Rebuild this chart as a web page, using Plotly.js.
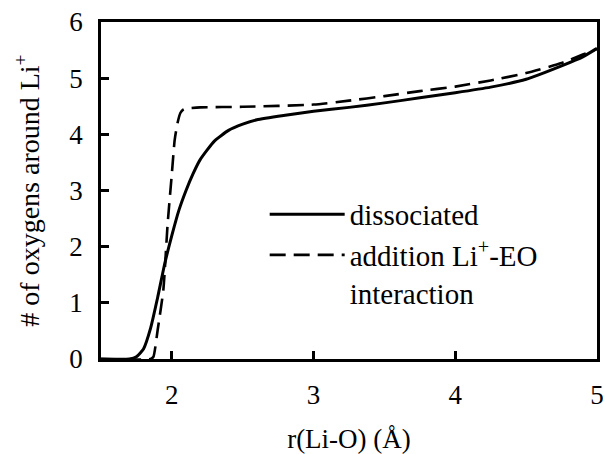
<!DOCTYPE html>
<html>
<head>
<meta charset="utf-8">
<script src="https://cdn.plot.ly/plotly-3.0.1.min.js"></script>
<style>
html,body{margin:0;padding:0;background:#fff;}
</style>
</head>
<body>
<div id="chart"></div>
<script>
// Data
const rDissociated = [1.5, 1.7, 1.75, 1.8, 1.85, 1.9, 1.95, 2.0, 2.05, 2.1, 2.15, 2.2, 2.3, 2.4, 2.5, 2.6, 2.8, 3.0, 3.25, 3.5, 3.75, 4.0, 4.25, 4.5, 4.75, 4.9, 5.0];
const nDissociated = [0, 0, 0.04, 0.18, 0.55, 1.1, 1.7, 2.2, 2.65, 3.0, 3.3, 3.55, 3.88, 4.07, 4.18, 4.26, 4.34, 4.41, 4.48, 4.56, 4.65, 4.74, 4.84, 4.98, 5.22, 5.38, 5.53];
const rAddition = [1.5, 1.85, 1.87, 1.9, 1.94, 1.97, 2.0, 2.02, 2.04, 2.06, 2.08, 2.1, 2.2, 2.5, 3.0, 3.25, 3.5, 3.75, 4.0, 4.25, 4.5, 4.75, 4.9, 5.0];
const nAddition = [0, 0, 0.04, 0.52, 1.23, 2.4, 3.3, 3.9, 4.2, 4.38, 4.44, 4.46, 4.48, 4.49, 4.53, 4.6, 4.68, 4.77, 4.85, 4.96, 5.09, 5.27, 5.42, 5.52];
const seriesNames = ["dissociated", "addition Li<sup>+</sup>-EO<br>interaction"];
const xTicks = [2, 3, 4, 5];
const yTicks = [0, 1, 2, 3, 4, 5, 6];

var SERIF = "serif";

var traces = [
  {x: rDissociated, y: nDissociated, name: seriesNames[0], mode: "lines", line: {color: "#000", width: 3, shape: "spline", smoothing: 0.5}},
  {x: rAddition, y: nAddition, name: seriesNames[1], mode: "lines", line: {color: "#000", width: 2.6, dash: "16px,8px", shape: "spline", smoothing: 0.5}}
];

var layout = {
  width: 603, height: 454,
  margin: {l: 101, r: 6, t: 22, b: 95},
  paper_bgcolor: "#fff", plot_bgcolor: "#fff",
  font: {family: SERIF, size: 27, color: "#000"},
  showlegend: true,
  legend: {x: 0.33, y: 0.505, xanchor: "left", yanchor: "top", bgcolor: "rgba(0,0,0,0)", borderwidth: 0,
           font: {family: SERIF, size: 29, color: "#000"}, itemwidth: 75, valign: "top", tracegroupgap: 0},
  xaxis: {range: [1.5, 5], tickvals: xTicks, ticks: "inside", ticklen: 8, tickwidth: 2.5, tickcolor: "#000",
          showline: true, linewidth: 2.5, linecolor: "#000", mirror: true, showgrid: false, zeroline: false,
          tickfont: {family: SERIF, size: 27, color: "#000"}, ticklabelstandoff: 10, ticklabeloverflow: "allow",
          title: {text: "r(Li-O) (Å)", font: {family: SERIF, size: 27, color: "#000"}, standoff: 24}},
  yaxis: {range: [0, 6], tickvals: yTicks, ticks: "inside", ticklen: 8, tickwidth: 2.5, tickcolor: "#000",
          showline: true, linewidth: 2.5, linecolor: "#000", mirror: true, showgrid: false, zeroline: false,
          tickfont: {family: SERIF, size: 27, color: "#000"}, ticklabelstandoff: 10, ticklabeloverflow: "allow",
          title: {text: "# of oxygens around Li<sup>+</sup>", font: {family: SERIF, size: 28, color: "#000"}, standoff: 22}}
};

Plotly.newPlot("chart", traces, layout, {displayModeBar: false});
</script>
</body>
</html>
